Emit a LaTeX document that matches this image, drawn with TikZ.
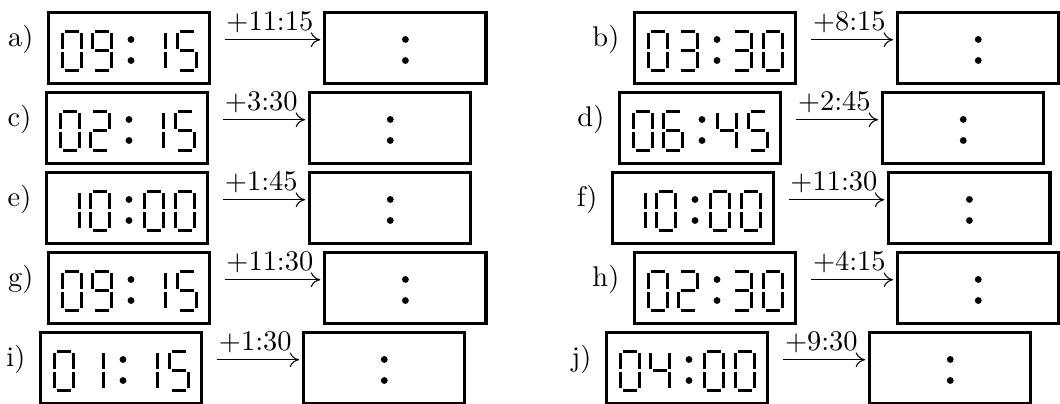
\documentclass[tikz,border=0pt]{standalone}
\usepackage{tikz}
\usetikzlibrary{positioning,arrows.meta}

% seven-segment pieces, cell 22 x 42 (px units)
\newcommand{\segA}{\draw[seg] (4,1.5) -- (18,1.5);}
\newcommand{\segB}{\draw[seg] (20.5,3.5) -- (20.5,19.2);}
\newcommand{\segC}{\draw[seg] (20.5,22.8) -- (20.5,38.5);}
\newcommand{\segD}{\draw[seg] (4,40.5) -- (18,40.5);}
\newcommand{\segE}{\draw[seg] (1.5,22.8) -- (1.5,38.5);}
\newcommand{\segF}{\draw[seg] (1.5,3.5) -- (1.5,19.2);}
\newcommand{\segG}{\draw[seg] (4,21) -- (18,21);}

\newcommand{\segdigit}[2]{%
  \begin{scope}[shift={(#1,19)}]
    \ifcase#2 \segA\segB\segC\segD\segE\segF
    \or \segB\segC
    \or \segA\segB\segG\segE\segD
    \or \segA\segB\segG\segC\segD
    \or \segF\segG\segB\segC
    \or \segA\segF\segG\segC\segD
    \or \segA\segF\segG\segE\segD\segC
    \or \segA\segB\segC
    \or \segA\segB\segC\segD\segE\segF\segG
    \or \segA\segB\segC\segD\segF\segG
    \fi
  \end{scope}}

% digits hh:mm inside a clock box
\newcommand{\clockface}[5]{%
  \begin{scope}[shift={(#1.north west)}]
    \segdigit{14}{#2}\segdigit{44}{#3}\segdigit{98}{#4}\segdigit{129}{#5}
    \fill (84,29) circle[radius=1.3pt] (84,50) circle[radius=1.3pt];
  \end{scope}}

% empty answer box, colon only
\newcommand{\blankface}[1]{%
  \fill ([yshift=-11pt]#1.north) circle[radius=1.3pt] ([yshift=-19pt]#1.north) circle[radius=1.3pt];}

\begin{document}
\begin{tikzpicture}[
    x=0.38pt, y=-0.38pt,
    font=\fontsize{10.8}{13}\selectfont,
    box/.style={draw, line width=1.2pt, minimum width=61.2pt, minimum height=27pt, inner sep=0pt},
    clockbox/.style={box, anchor=north west},
    ansbox/.style={box},
    seg/.style={line width=1.14pt},
    lbl/.style={anchor=base east, inner sep=0pt, yshift=0.6pt},
    arr/.style={-{To[length=3.6pt,width=5.6pt]}, line width=0.4pt, shorten <=5.3pt, shorten >=1.15pt},
    addlbl/.style={anchor=base, inner sep=0pt, yshift=3.4pt, xshift=1pt}
]
\useasboundingbox (0,0) rectangle (1060,403);

% Left column
\node[clockbox] (a1) at (47,10.5) {};
\node[lbl] (la) at ([xshift=-5pt]a1.west) {a)};
\node[ansbox, right=42.6pt of a1] (a2) {};
\draw[arr] ([yshift=3pt]a1.east) -- node[addlbl] (ta) {+11:15} ([yshift=3pt]a2.west);
\clockface{a1}{0}{9}{1}{5}\blankface{a2}

\node[clockbox] (c1) at (45,90.5) {};
\node[lbl] (lc) at ([xshift=-5pt]c1.west) {c)};
\node[ansbox, right=37.6pt of c1] (c2) {};
\draw[arr] ([yshift=3pt]c1.east) -- node[addlbl] (tc) {+3:30} ([yshift=3pt]c2.west);
\clockface{c1}{0}{2}{1}{5}\blankface{c2}

\node[clockbox] (e1) at (45,170.5) {};
\node[lbl] (le) at ([xshift=-5pt]e1.west) {e)};
\node[ansbox, right=37.6pt of e1] (e2) {};
\draw[arr] ([yshift=3pt]e1.east) -- node[addlbl] (te) {+1:45} ([yshift=3pt]e2.west);
\clockface{e1}{1}{0}{0}{0}\blankface{e2}

\node[clockbox] (g1) at (47,250.5) {};
\node[lbl] (lg) at ([xshift=-5pt]g1.west) {g)};
\node[ansbox, right=42.6pt of g1] (g2) {};
\draw[arr] ([yshift=3pt]g1.east) -- node[addlbl] (tg) {+11:30} ([yshift=3pt]g2.west);
\clockface{g1}{0}{9}{1}{5}\blankface{g2}

\node[clockbox] (i1) at (39,330.5) {};
\node[lbl] (li) at ([xshift=-5pt]i1.west) {i)};
\node[ansbox, right=37.6pt of i1] (i2) {};
\draw[arr] ([yshift=3pt]i1.east) -- node[addlbl] (ti) {+1:30} ([yshift=3pt]i2.west);
\clockface{i1}{0}{1}{1}{5}\blankface{i2}

% Right column
\node[clockbox] (b1) at (633,10.5) {};
\node[lbl] (lb) at ([xshift=-5pt]b1.west) {b)};
\node[ansbox, right=37.6pt of b1] (b2) {};
\draw[arr] ([yshift=3pt]b1.east) -- node[addlbl] (tb) {+8:15} ([yshift=3pt]b2.west);
\clockface{b1}{0}{3}{3}{0}\blankface{b2}

\node[clockbox] (d1) at (618,90.5) {};
\node[lbl] (ld) at ([xshift=-5pt]d1.west) {d)};
\node[ansbox, right=37.6pt of d1] (d2) {};
\draw[arr] ([yshift=3pt]d1.east) -- node[addlbl] (td) {+2:45} ([yshift=3pt]d2.west);
\clockface{d1}{0}{6}{4}{5}\blankface{d2}

\node[clockbox] (f1) at (611,170.5) {};
\node[lbl] (lf) at ([xshift=-5pt]f1.west) {f)};
\node[ansbox, right=42.6pt of f1] (f2) {};
\draw[arr] ([yshift=3pt]f1.east) -- node[addlbl] (tf) {+11:30} ([yshift=3pt]f2.west);
\clockface{f1}{1}{0}{0}{0}\blankface{f2}

\node[clockbox] (h1) at (633,250.5) {};
\node[lbl] (lh) at ([xshift=-5pt]h1.west) {h)};
\node[ansbox, right=37.6pt of h1] (h2) {};
\draw[arr] ([yshift=3pt]h1.east) -- node[addlbl] (th) {+4:15} ([yshift=3pt]h2.west);
\clockface{h1}{0}{2}{3}{0}\blankface{h2}

\node[clockbox] (j1) at (605,330.5) {};
\node[lbl] (lj) at ([xshift=-5pt]j1.west) {j)};
\node[ansbox, right=37.6pt of j1] (j2) {};
\draw[arr] ([yshift=3pt]j1.east) -- node[addlbl] (tj) {+9:30} ([yshift=3pt]j2.west);
\clockface{j1}{0}{4}{0}{0}\blankface{j2}
\end{tikzpicture}
\end{document}
